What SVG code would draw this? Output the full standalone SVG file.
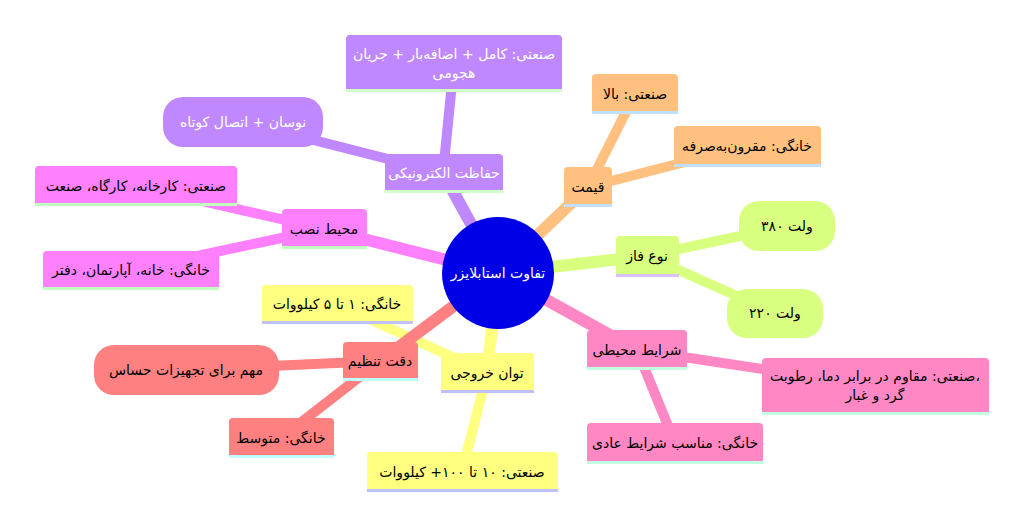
<svg xmlns="http://www.w3.org/2000/svg" width="1024" height="525" viewBox="0 0 1024 525">
<style>
text{font-family:"DejaVu Sans","Noto Sans",sans-serif;font-size:14px;text-anchor:middle;fill:#000}
.w{fill:#fff}
.c{font-size:14px}
.cp{stroke:#c088ff}.co{stroke:#ffc080}.cg{stroke:#d8ff80}.cm{stroke:#ff80ff}.cy{stroke:#ffff80}.cs{stroke:#ff8080}.ck{stroke:#ff88c4}
#connectors line{stroke-width:10;fill:none}
#connectors line.main{stroke-width:12}
.p{fill:#c088ff}.o{fill:#ffc080}.g{fill:#d8ff80}.m{fill:#ff80ff}.y{fill:#ffff80}.s{fill:#ff8080}.k{fill:#ff88c4}
.sp{fill:#d0ffc8}.so{fill:#c0e0ff}.sg{fill:#d8c0ff}.sm{fill:#c0ffc0}.sy{fill:#c0c0ff}.ss{fill:#c0ffff}.sk{fill:#c0ffe0}
</style>
<rect width="1024" height="525" fill="#fff"/>
<g id="connectors">
<line class="cp main" x1="498" y1="273" x2="443" y2="173"/>
<line class="cp" x1="443" y1="173" x2="454" y2="63"/>
<line class="cp" x1="443" y1="173" x2="243" y2="122"/>
<line class="co main" x1="498" y1="273" x2="588" y2="187"/>
<line class="co" x1="588" y1="187" x2="635" y2="94"/>
<line class="co" x1="588" y1="187" x2="747" y2="146"/>
<line class="cg main" x1="498" y1="273" x2="647" y2="256"/>
<line class="cg" x1="647" y1="256" x2="787" y2="226"/>
<line class="cg" x1="647" y1="256" x2="775" y2="313"/>
<line class="cm main" x1="498" y1="273" x2="324" y2="229"/>
<line class="cm" x1="324" y1="229" x2="136" y2="186"/>
<line class="cm" x1="324" y1="229" x2="131" y2="270"/>
<line class="ck main" x1="498" y1="273" x2="637" y2="350"/>
<line class="ck" x1="637" y1="350" x2="875" y2="386"/>
<line class="ck" x1="637" y1="350" x2="675" y2="443"/>
<line class="cy main" x1="498" y1="273" x2="487" y2="373"/>
<line class="cy" x1="487" y1="373" x2="337" y2="304"/>
<line class="cy" x1="487" y1="373" x2="462" y2="472"/>
<line class="cs main" x1="498" y1="273" x2="380" y2="361"/>
<line class="cs" x1="380" y1="361" x2="186" y2="370"/>
<line class="cs" x1="380" y1="361" x2="281" y2="438"/>
</g>
<g id="center">
<circle cx="498" cy="273" r="56" fill="#0000e6"/>
<text class="w c" x="498" y="278">تفاوت استابلایزر</text>
</g>
<g id="n-hefazat">
<rect class="p" x="385" y="154" width="118" height="39" rx="4"/><rect class="sp" x="385" y="190" width="118" height="3"/>
<text class="w" x="444" y="178">حفاظت الکترونیکی</text>
</g>
<g id="n-hefazat-sanati">
<rect class="p" x="346" y="35" width="216" height="57" rx="4"/><rect class="sp" x="346" y="89" width="216" height="3"/>
<text class="w" x="454" y="59">صنعتی: کامل + اضافه‌بار + جریان</text>
<text class="w" x="454" y="78">هجومی</text>
</g>
<g id="n-hefazat-khanegi">
<rect class="p" x="163" y="97" width="160" height="50" rx="20"/>
<text class="w" x="243" y="127">نوسان + اتصال کوتاه</text>
</g>
<g id="n-gheymat">
<rect class="o" x="564" y="167" width="48" height="40" rx="4"/><rect class="so" x="564" y="204" width="48" height="3"/>
<text x="588" y="192">قیمت</text>
</g>
<g id="n-gheymat-sanati">
<rect class="o" x="592" y="74" width="86" height="40" rx="4"/><rect class="so" x="592" y="111" width="86" height="3"/>
<text x="635" y="99">صنعتی: بالا</text>
</g>
<g id="n-gheymat-khanegi">
<rect class="o" x="674" y="126" width="147" height="41" rx="4"/><rect class="so" x="674" y="164" width="147" height="3"/>
<text x="747" y="151">خانگی: مقرون‌به‌صرفه</text>
</g>
<g id="n-faz">
<rect class="g" x="616" y="236" width="63" height="41" rx="4"/><rect class="sg" x="616" y="274" width="63" height="3"/>
<text x="647" y="261">نوع فاز</text>
</g>
<g id="n-faz-380">
<rect class="g" x="739" y="201" width="96" height="50" rx="20"/>
<text x="787" y="231">ولت ۳۸۰</text>
</g>
<g id="n-faz-220">
<rect class="g" x="727" y="289" width="96" height="49" rx="20"/>
<text x="775" y="318">ولت ۲۲۰</text>
</g>
<g id="n-mohit">
<rect class="m" x="282" y="209" width="85" height="40" rx="4"/><rect class="sm" x="282" y="246" width="85" height="3"/>
<text x="324" y="234">محیط نصب</text>
</g>
<g id="n-mohit-sanati">
<rect class="m" x="35" y="166" width="202" height="40" rx="4"/><rect class="sm" x="35" y="203" width="202" height="3"/>
<text x="136" y="191">صنعتی: کارخانه، کارگاه، صنعت</text>
</g>
<g id="n-mohit-khanegi">
<rect class="m" x="43" y="251" width="176" height="39" rx="4"/><rect class="sm" x="43" y="287" width="176" height="3"/>
<text x="131" y="275">خانگی: خانه، آپارتمان، دفتر</text>
</g>
<g id="n-tavan">
<rect class="y" x="441" y="353" width="93" height="40" rx="4"/><rect class="sy" x="441" y="390" width="93" height="3"/>
<text x="487" y="378">توان خروجی</text>
</g>
<g id="n-tavan-khanegi">
<rect class="y" x="262" y="285" width="151" height="39" rx="4"/><rect class="sy" x="262" y="321" width="151" height="3"/>
<text x="337" y="309">خانگی: ۱ تا ۵ کیلووات</text>
</g>
<g id="n-tavan-sanati">
<rect class="y" x="367" y="452" width="191" height="40" rx="4"/><rect class="sy" x="367" y="489" width="191" height="3"/>
<text x="462" y="477">صنعتی: ۱۰ تا ۱۰۰+ کیلووات</text>
</g>
<g id="n-deghat">
<rect class="s" x="343" y="342" width="75" height="39" rx="4"/><rect class="ss" x="343" y="378" width="75" height="3"/>
<text x="380" y="366">دقت تنظیم</text>
</g>
<g id="n-deghat-mohem">
<rect class="s" x="94" y="345" width="185" height="50" rx="20"/>
<text x="186" y="375">مهم برای تجهیزات حساس</text>
</g>
<g id="n-deghat-khanegi">
<rect class="s" x="229" y="418" width="105" height="40" rx="4"/><rect class="ss" x="229" y="455" width="105" height="3"/>
<text x="281" y="443">خانگی: متوسط</text>
</g>
<g id="n-sharayet">
<rect class="k" x="587" y="330" width="100" height="40" rx="4"/><rect class="sk" x="587" y="367" width="100" height="3"/>
<text x="637" y="355">شرایط محیطی</text>
</g>
<g id="n-sharayet-sanati">
<rect class="k" x="762" y="358" width="227" height="57" rx="4"/><rect class="sk" x="762" y="412" width="227" height="3"/>
<text x="875" y="381">صنعتی: مقاوم در برابر دما، رطوبت،</text>
<text x="875" y="400">گرد و غبار</text>
</g>
<g id="n-sharayet-khanegi">
<rect class="k" x="587" y="423" width="176" height="41" rx="4"/><rect class="sk" x="587" y="461" width="176" height="3"/>
<text x="675" y="448">خانگی: مناسب شرایط عادی</text>
</g>
</svg>
